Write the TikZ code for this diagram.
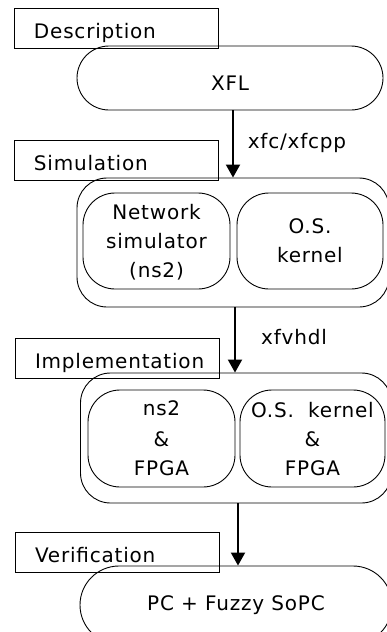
\documentclass[tikz,border=0pt]{standalone}
\usepackage{fontspec}
\setmainfont[LetterSpace=4]{DejaVu Sans}
\usetikzlibrary{arrows.meta}

\begin{document}
\begin{tikzpicture}[x=1pt,y=-1pt,
    every node/.style={font=\fontsize{20}{29}\selectfont},
    phase/.style={draw, line width=0.9pt, text width=164pt, inner xsep=20pt,
        minimum height=40pt, align=left, text height=20pt, text depth=0pt},
    stage/.style={draw, line width=0.9pt, rounded corners=#1, align=center},
    stage/.default=32pt,
    flow/.style={line width=2pt, -{Triangle[width=14pt,length=13pt]}}]
    \clip (0,0) rectangle (387,632);

    % Description
    \node[phase] (descr) at (116,28) {Description};
    \node[stage=32pt, minimum width=306pt, minimum height=64pt,
        text height=24pt, text depth=0pt] (xfl) at (230,78) {XFL};

    % Simulation
    \node[phase] (simlab) at (116,160) {Simulation};
    \node[stage=30pt, minimum width=312pt, minimum height=129pt] (simbox) at (233,242.5) {};
    \node[stage, minimum width=147pt, minimum height=96pt, text depth=0pt] (netsim)
        at (156.5,241) {Network\\simulator\\(ns2)};
    \node[stage, minimum width=146pt, minimum height=96pt, text depth=0pt] (oskern)
        at (310,241) {O.S.\\kernel};
    \draw[flow] (xfl.south -| simbox.north) -- (simbox.north);
    \node (xfc) at (297,143) {xfc/xfcpp};

    % Implementation
    \node[phase] (impllab) at (117,358.5) {Implementation};
    \node[stage=30pt, minimum width=311pt, minimum height=130pt] (implbox) at (236,438) {};
    \node[stage, minimum width=147pt, minimum height=97pt, text depth=0pt] (nsfpga)
        at (161.5,438.5) {ns2\\[2pt]\&\\FPGA};
    \node[stage, minimum width=145pt, minimum height=97pt, text depth=0pt] (osfpga)
        at (312.5,438.5) {O.S.~~kernel\\\&\\FPGA};
    \draw[flow] (simbox.south -| 235,0) -- (implbox.north -| 235,0);
    \node (vhdl) at (294,337) {xfvhdl};

    % Verification
    \node[phase] (veriflab) at (117,552) {Verification};
    \node[stage=39pt, minimum width=312pt, minimum height=78pt] (sopc) at (236,605)
        {PC + Fuzzy SoPC};
    \draw[flow] (implbox.south -| 238,0) -- (sopc.north -| 238,0);
\end{tikzpicture}
\end{document}
